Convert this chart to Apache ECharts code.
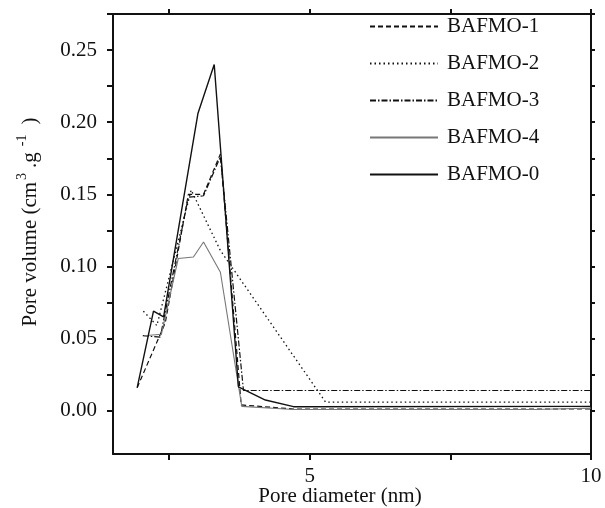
<!DOCTYPE html>
<html>
<head>
<meta charset="utf-8">
<script src="https://cdn.jsdelivr.net/npm/echarts@6/dist/echarts.min.js"></script>
<style>
  html, body { margin: 0; padding: 0; background: #fff; }
  #chart { width: 605px; height: 508px; }
</style>
</head>
<body>
<div id="chart"></div>
<script>
// Pore size distribution of the BAFMO samples
const seriesNames = ['BAFMO-1', 'BAFMO-2', 'BAFMO-3', 'BAFMO-4', 'BAFMO-0'];

// Pore diameter (nm) and pore volume (cm3/g) for each sample
const bafmo1X = [1.93, 2.43, 2.84, 3.11, 3.41, 3.78, 4.71, 10];
const bafmo1Y = [0.016, 0.061, 0.150, 0.150, 0.178, 0.004, 0.0012, 0.0012];

const bafmo2X = [2.04, 2.28, 2.89, 3.41, 5.28, 10];
const bafmo2Y = [0.069, 0.059, 0.153, 0.111, 0.006, 0.006];

const bafmo3X = [2.03, 2.34, 2.84, 3.11, 3.41, 3.82, 10];
const bafmo3Y = [0.052, 0.051, 0.148, 0.149, 0.176, 0.014, 0.014];

const bafmo4X = [2.05, 2.36, 2.66, 2.93, 3.11, 3.41, 3.79, 4.71, 9.0, 10];
const bafmo4Y = [0.052, 0.053, 0.1055, 0.1066, 0.117, 0.096, 0.003, 0.0008, 0.0008, 0.0018];

const bafmo0X = [1.93, 2.22, 2.40, 3.01, 3.30, 3.73, 4.21, 4.71, 10];
const bafmo0Y = [0.016, 0.069, 0.065, 0.206, 0.240, 0.0166, 0.0074, 0.0028, 0.0030];

// Axis ticks and labels
const xTicks = [2.5, 5, 7.5, 10];
const xLabels = [5, 10];
const yTicks = [0, 0.025, 0.05, 0.075, 0.1, 0.125, 0.15, 0.175, 0.2, 0.225, 0.25, 0.275];
const yLabels = [0, 0.05, 0.1, 0.15, 0.2, 0.25];

const FONT = 'Liberation Serif';
const zip = (xs, ys) => xs.map((x, i) => [x, ys[i]]);

const lineStyles = {
  'BAFMO-1': { color: '#111', width: 1.2, type: [5, 3] },
  'BAFMO-2': { color: '#111', width: 1.3, type: [1.5, 3] },
  'BAFMO-3': { color: '#111', width: 1.2, type: [6, 2, 1.5, 2] },
  'BAFMO-4': { color: '#777', width: 1.1, type: 'solid' },
  'BAFMO-0': { color: '#111', width: 1.4, type: 'solid' }
};
const seriesData = {
  'BAFMO-1': zip(bafmo1X, bafmo1Y),
  'BAFMO-2': zip(bafmo2X, bafmo2Y),
  'BAFMO-3': zip(bafmo3X, bafmo3Y),
  'BAFMO-4': zip(bafmo4X, bafmo4Y),
  'BAFMO-0': zip(bafmo0X, bafmo0Y)
};

const axisLine = { show: true, onZero: false, lineStyle: { color: '#111', width: 2 } };
const tickStyle = { color: '#111', width: 2 };

const chart = echarts.init(document.getElementById('chart'), null, { renderer: 'canvas' });
chart.setOption({
  backgroundColor: '#fff',
  animation: false,
  grid: { left: 113, right: 14, top: 14, bottom: 54, containLabel: false, outerBoundsMode: 'none' },
  legend: {
    data: seriesNames,
    orient: 'vertical',
    left: 364,
    top: 11,
    itemWidth: 68,
    itemHeight: 14,
    itemGap: 16,
    itemStyle: { opacity: 0 },
    textStyle: { fontFamily: FONT, fontSize: 21, color: '#111', padding: [0, 0, 0, 4] }
  },
  xAxis: [{
    type: 'value', min: 1.5, max: 10,
    name: 'Pore diameter (nm)', nameLocation: 'middle', nameGap: 32, nameMoveOverlap: false,
    nameTextStyle: { fontFamily: FONT, fontSize: 21, color: '#111', padding: [0, 24, 0, 0] },
    axisLine: axisLine,
    axisTick: { show: true, inside: false, length: 6, lineStyle: tickStyle, customValues: xTicks },
    axisLabel: { fontFamily: FONT, fontSize: 21, color: '#111', margin: 12, customValues: xLabels },
    splitLine: { show: false }
  }, {
    type: 'value', min: 1.5, max: 10, position: 'top',
    axisLine: axisLine,
    axisTick: { show: true, inside: false, length: 5, lineStyle: tickStyle, customValues: xTicks },
    axisLabel: { show: false },
    splitLine: { show: false }
  }],
  yAxis: [{
    type: 'value', min: -0.03, max: 0.275,
    name: '{n|Pore volume (cm}{s|3}{n|.g}{t|-1}{n|)}', nameLocation: 'middle', nameGap: 72, nameMoveOverlap: false,
    nameTextStyle: {
      fontFamily: FONT, fontSize: 21, color: '#111', padding: [0, 0, 0, 24],
      rich: {
        n: { fontFamily: FONT, fontSize: 21, color: '#111', lineHeight: 26, verticalAlign: 'bottom' },
        s: { fontFamily: FONT, fontSize: 14, color: '#111', lineHeight: 26, verticalAlign: 'top', padding: [0, 5, 8, 2] },
        t: { fontFamily: FONT, fontSize: 14, color: '#111', lineHeight: 26, verticalAlign: 'top', padding: [0, 10, 8, 6] }
      }
    },
    axisLine: axisLine,
    axisTick: { show: true, inside: false, length: 6, lineStyle: tickStyle, customValues: yTicks },
    axisLabel: {
      fontFamily: FONT, fontSize: 21, color: '#111', margin: 16, customValues: yLabels,
      formatter: v => v.toFixed(2)
    },
    splitLine: { show: false }
  }, {
    type: 'value', min: -0.03, max: 0.275, position: 'right',
    axisLine: axisLine,
    axisTick: { show: true, inside: false, length: 4, lineStyle: tickStyle, customValues: yTicks },
    axisLabel: { show: false },
    splitLine: { show: false }
  }],
  series: seriesNames.map(name => ({
    name: name,
    type: 'line',
    xAxisIndex: 0,
    yAxisIndex: 0,
    data: seriesData[name],
    symbol: 'none',
    showSymbol: false,
    lineStyle: lineStyles[name],
    itemStyle: { color: lineStyles[name].color },
    emphasis: { disabled: true }
  }))
});
</script>
</body>
</html>
